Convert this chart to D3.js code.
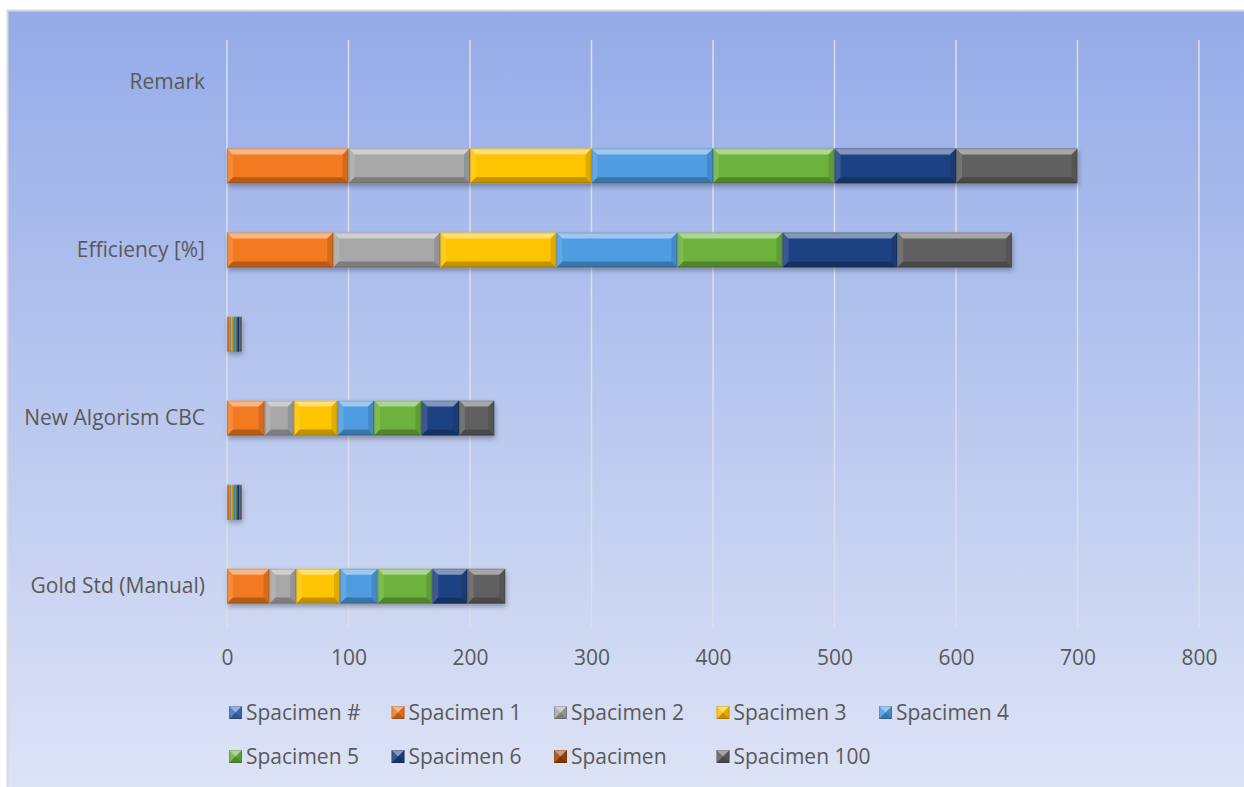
<!DOCTYPE html>
<html>
<head>
<meta charset="utf-8">
<script src="https://cdn.jsdelivr.net/npm/d3@7"></script>
<style>
  body { margin: 0; background: #fff; }
  text { font-family: "Open Sans", "Noto Sans", sans-serif; }
</style>
</head>
<body>
<script>
// categories bottom to top; only every other one gets a label
var categories = ['Gold Std (Manual)', 'Row 2', 'New Algorism CBC', 'Row 4', 'Efficiency [%]', 'Row 6', 'Remark'];
var shownLabels = ['Gold Std (Manual)', 'New Algorism CBC', 'Efficiency [%]', 'Remark'];

var seriesNames = ['Spacimen #', 'Spacimen 1', 'Spacimen 2', 'Spacimen 3', 'Spacimen 4', 'Spacimen 5', 'Spacimen 6', 'Spacimen', 'Spacimen 100'];
var seriesColors = ['#4472c4', '#f47a22', '#a8a8a8', '#ffc400', '#4f9ce0', '#6cb23e', '#1f4384', '#a5480c', '#606060'];

// one array per series, values in category order
var spacimenNum = [0, 0, 0, 0, 0, 0, 0];
var spacimen1 = [35, 2, 31, 2, 87.4, 100, 0];
var spacimen2 = [22, 1.5, 24, 1.5, 88.1, 100, 0];
var spacimen3 = [36, 1.5, 36, 1.5, 95.7, 100, 0];
var spacimen4 = [31, 1.5, 30, 1.5, 99.5, 100, 0];
var spacimen5 = [45, 1.5, 39, 1.5, 86.5, 100, 0];
var spacimen6 = [29, 2, 31, 2, 94.4, 100, 0];
var spacimenX = [0, 0, 0, 0, 0, 0, 0];
var spacimen100 = [31, 2, 29, 2, 94.4, 100, 0];

var xTicks = [0, 100, 200, 300, 400, 500, 600, 700, 800];

var seriesValues = [spacimenNum, spacimen1, spacimen2, spacimen3, spacimen4, spacimen5, spacimen6, spacimenX, spacimen100];

var W = 1244, H = 787;
var margin = {left: 227, right: 45, top: 40, bottom: 159};
var fontSize = 21;

var table = categories.map(function(c, i) {
  var row = {cat: c};
  seriesNames.forEach(function(s, j) { row[s] = seriesValues[j][i]; });
  return row;
});
var stacked = d3.stack().keys(seriesNames)(table);

var svg = d3.select('body').append('svg').attr('width', W).attr('height', H);
var defs = svg.append('defs');

var bg = defs.append('linearGradient').attr('id', 'bg').attr('x1', 0).attr('y1', 0).attr('x2', 0).attr('y2', 1);
bg.append('stop').attr('offset', '0%').attr('stop-color', '#94abe8');
bg.append('stop').attr('offset', '100%').attr('stop-color', '#dee4f6');

var sh = defs.append('filter').attr('id', 'shadow').attr('x', '-10%').attr('y', '-30%').attr('width', '130%').attr('height', '180%');
sh.append('feDropShadow').attr('dx', 1).attr('dy', 3).attr('stdDeviation', 2.5).attr('flood-color', '#000').attr('flood-opacity', 0.3);

svg.append('rect').attr('x', 7.5).attr('y', 10.5).attr('width', W).attr('height', H)
  .attr('fill', 'url(#bg)').attr('stroke', '#d9d9d9').attr('stroke-width', 2);

var x = d3.scaleLinear().domain([0, 800]).range([margin.left, W - margin.right]);
var y = d3.scaleBand().domain(categories.slice().reverse())
  .range([margin.top, H - margin.bottom]).paddingInner(0.585).paddingOuter(0.29);

// gridlines
svg.append('g').selectAll('line').data(xTicks).join('line')
  .attr('x1', function(d) { return x(d); }).attr('x2', function(d) { return x(d); })
  .attr('y1', margin.top).attr('y2', H - margin.bottom)
  .attr('stroke', '#dcdfe8').attr('stroke-width', 1.5);

// x axis labels
var xAxis = d3.axisBottom(x).tickValues(xTicks).tickSize(0).tickPadding(22);
svg.append('g').attr('transform', 'translate(0,' + (H - margin.bottom) + ')').call(xAxis)
  .call(function(g) { g.select('.domain').remove(); })
  .selectAll('text').attr('font-size', fontSize).attr('fill', '#595959')
  .style('font-family', '"Open Sans", sans-serif');

// y axis labels
var yAxis = d3.axisLeft(y).tickSize(0).tickPadding(22)
  .tickFormat(function(d) { return shownLabels.indexOf(d) >= 0 ? d : ''; });
svg.append('g').attr('transform', 'translate(' + margin.left + ',0)').call(yAxis)
  .call(function(g) { g.select('.domain').remove(); })
  .selectAll('text').attr('font-size', fontSize).attr('fill', '#595959')
  .style('font-family', '"Open Sans", sans-serif');

// bevelled block
function bevel(g, x0, y0, w, h, color) {
  var b = Math.min(6, w / 2, h / 2);
  g.append('rect').attr('x', x0).attr('y', y0).attr('width', w).attr('height', h).attr('fill', color);
  var x1 = x0 + w, y1 = y0 + h;
  var faces = [
    {p: [[x0, y0], [x1, y0], [x1 - b, y0 + b], [x0 + b, y0 + b]], f: '#fff', o: 0.45},
    {p: [[x0, y0], [x0 + b, y0 + b], [x0 + b, y1 - b], [x0, y1]], f: '#fff', o: 0.12},
    {p: [[x1, y0], [x1, y1], [x1 - b, y1 - b], [x1 - b, y0 + b]], f: '#000', o: 0.12},
    {p: [[x0, y1], [x0 + b, y1 - b], [x1 - b, y1 - b], [x1, y1]], f: '#000', o: 0.25}
  ];
  faces.forEach(function(fc) {
    g.append('polygon').attr('points', fc.p.map(function(q) { return q.join(','); }).join(' '))
      .attr('fill', fc.f).attr('fill-opacity', fc.o);
  });
  g.append('rect').attr('x', x0 + 0.5).attr('y', y0 + 0.5).attr('width', Math.max(0, w - 1)).attr('height', h - 1)
    .attr('fill', 'none').attr('stroke', '#000').attr('stroke-opacity', 0.15);
}

var barsG = svg.append('g').attr('filter', 'url(#shadow)');
stacked.forEach(function(layer, j) {
  layer.forEach(function(d) {
    var w = x(d[1]) - x(d[0]);
    if (w <= 0) return;
    bevel(barsG, x(d[0]), y(d.data.cat), w, y.bandwidth(), seriesColors[j]);
  });
});

// legend
var legend = svg.append('g');
var perRow = 5;
seriesNames.forEach(function(s, i) {
  var lx = 229 + (i % perRow) * 162.5;
  var ly = 713 + Math.floor(i / perRow) * 44;
  var g = legend.append('g');
  bevel(g, lx, ly - 7, 13, 13, seriesColors[i]);
  g.append('text').attr('x', lx + 17).attr('y', ly).attr('dy', '0.35em')
    .attr('font-size', fontSize).attr('fill', '#595959').text(s);
});
</script>
</body>
</html>
